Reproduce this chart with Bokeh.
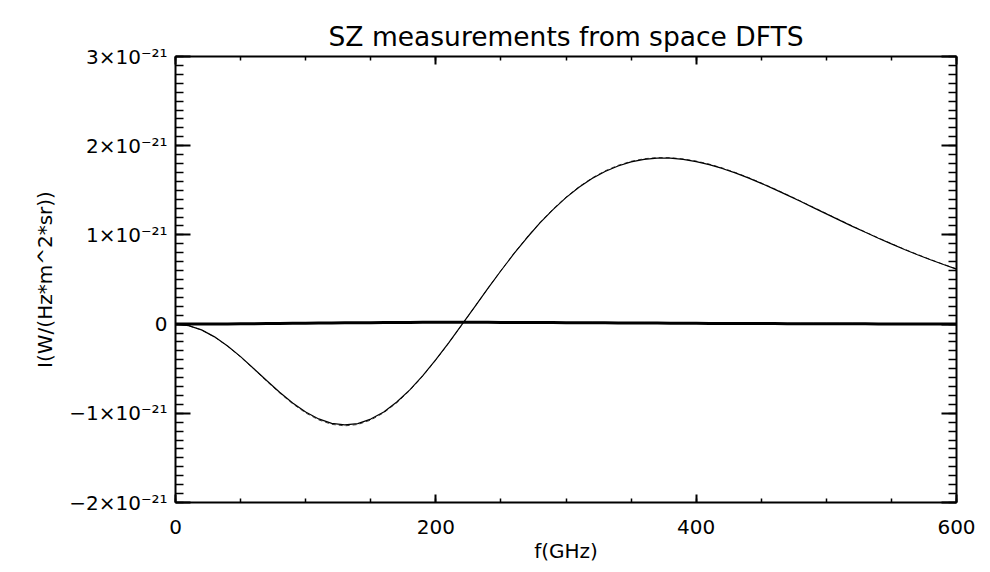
from bokeh.plotting import figure
from bokeh.models import LinearAxis, FixedTicker, Range1d, CustomJSTickFormatter
from bokeh.embed import file_html
from bokeh.resources import INLINE

TITLE = "SZ measurements from space DFTS"
X_LABEL = "f(GHz)"
Y_LABEL = "I(W/(Hz*m^2*sr))"

# frequency grid (GHz)
FREQ = [0, 10, 20, 30, 40, 50, 60, 70, 80, 90,
        100, 110, 120, 130, 140, 150, 160, 170, 180, 190,
        200, 210, 220, 230, 240, 250, 260, 270, 280, 290,
        300, 310, 320, 330, 340, 350, 360, 370, 380, 390,
        400, 410, 420, 430, 440, 450, 460, 470, 480, 490,
        500, 510, 520, 530, 540, 550, 560, 570, 580, 590, 600]

# intensities in units of 1e-21 W/(Hz m^2 sr)
SZ_SOLID = [0.0, -0.017, -0.065, -0.143, -0.245, -0.365, -0.497, -0.633, -0.764, -0.884,
            -0.986, -1.063, -1.113, -1.130, -1.115, -1.065, -0.985, -0.874, -0.737, -0.577,
            -0.399, -0.207, -0.007, 0.196, 0.400, 0.598, 0.789, 0.968, 1.134, 1.284,
            1.418, 1.534, 1.632, 1.711, 1.773, 1.818, 1.847, 1.860, 1.860, 1.847,
            1.822, 1.788, 1.745, 1.695, 1.639, 1.578, 1.513, 1.446, 1.377, 1.306,
            1.236, 1.166, 1.096, 1.029, 0.963, 0.899, 0.837, 0.778, 0.721, 0.668, 0.617]

SZ_DASHED = [0.0, -0.017, -0.066, -0.145, -0.247, -0.369, -0.502, -0.639, -0.772, -0.893,
             -0.996, -1.074, -1.124, -1.141, -1.126, -1.076, -0.994, -0.882, -0.744, -0.582,
             -0.403, -0.210, -0.009, 0.196, 0.400, 0.600, 0.792, 0.972, 1.139, 1.289,
             1.424, 1.540, 1.638, 1.718, 1.780, 1.825, 1.854, 1.867, 1.866, 1.852,
             1.828, 1.794, 1.751, 1.700, 1.644, 1.583, 1.518, 1.450, 1.381, 1.310,
             1.240, 1.170, 1.100, 1.032, 0.966, 0.902, 0.840, 0.781, 0.724, 0.670, 0.619]

KSZ = [0.0, 0.0002, 0.0005, 0.0012, 0.002, 0.003, 0.0042, 0.0055, 0.0069, 0.0084,
       0.0099, 0.0114, 0.0128, 0.0141, 0.0154, 0.0165, 0.0175, 0.0183, 0.0190, 0.0195,
       0.0198, 0.0200, 0.0200, 0.0199, 0.0197, 0.0193, 0.0189, 0.0184, 0.0178, 0.0171,
       0.0164, 0.0157, 0.0149, 0.0141, 0.0133, 0.0125, 0.0117, 0.0110, 0.0102, 0.0095,
       0.0088, 0.0081, 0.0075, 0.0069, 0.0064, 0.0059, 0.0054, 0.0049, 0.0045, 0.0041,
       0.0037, 0.0033, 0.0030, 0.0027, 0.0025, 0.0022, 0.0020, 0.0018, 0.0016, 0.0014, 0.0013]

X_MAJOR = [0, 200, 400, 600]
X_MINOR = [0, 50, 100, 150, 200, 250, 300, 350, 400, 450, 500, 550, 600]
Y_MAJOR = [-2, -1, 0, 1, 2, 3]
Y_MINOR = [round(-2 + 0.1 * i, 1) for i in range(51)]
Y_TICK_LABELS = ["\u22122\u00d710\u207b\u00b2\u00b9", "\u22121\u00d710\u207b\u00b2\u00b9", "0",
                 "1\u00d710\u207b\u00b2\u00b9", "2\u00d710\u207b\u00b2\u00b9", "3\u00d710\u207b\u00b2\u00b9"]

FONT = "DejaVu Sans"

p = figure(width=985, height=572, output_backend="svg", toolbar_location=None,
           x_range=Range1d(0, 600), y_range=Range1d(-2, 3),
           min_border_left=175, min_border_right=29, min_border_top=56, min_border_bottom=70)
p.xgrid.visible = False
p.ygrid.visible = False
p.outline_line_color = None
p.background_fill_color = "white"
p.border_fill_color = "white"

p.title.text = TITLE
p.title.align = "center"
p.title.text_font = FONT
p.title.text_font_size = "26.5px"
p.title.text_font_style = "normal"
p.title.text_color = "black"

xt = FixedTicker(ticks=X_MAJOR, minor_ticks=X_MINOR)
yt = FixedTicker(ticks=Y_MAJOR, minor_ticks=Y_MINOR)


def style(ax, major_len, minor_len, labels=True):
    ax.axis_line_width = 2
    ax.axis_line_color = "black"
    ax.major_tick_in = major_len
    ax.major_tick_out = 0
    ax.minor_tick_in = minor_len
    ax.minor_tick_out = 0
    ax.major_tick_line_width = 2
    ax.minor_tick_line_width = 1.5
    ax.major_tick_line_color = "black"
    ax.minor_tick_line_color = "black"
    ax.major_label_text_font = FONT
    ax.major_label_text_font_size = "20px"
    ax.major_label_text_color = "black"
    ax.axis_label_text_font = FONT
    ax.axis_label_text_font_size = "20px"
    ax.axis_label_text_font_style = "normal"
    ax.axis_label_text_color = "black"
    if not labels:
        ax.formatter = CustomJSTickFormatter(code="return '';")
        ax.major_label_standoff = 0


xa = p.xaxis[0]
xa.ticker = xt
style(xa, 8, 4)
xa.major_label_standoff = 17
xa.axis_label = X_LABEL
xa.axis_label_standoff = 2

ya = p.yaxis[0]
ya.ticker = yt
style(ya, 15, 8)
ya.major_label_standoff = 8
ya.major_label_overrides = {float(k): v for k, v in zip(Y_MAJOR, Y_TICK_LABELS)}
ya.axis_label = Y_LABEL
ya.axis_label_standoff = 9

top = LinearAxis(ticker=FixedTicker(ticks=X_MAJOR, minor_ticks=X_MINOR))
style(top, 8, 4, labels=False)
p.add_layout(top, "above")

right = LinearAxis(ticker=FixedTicker(ticks=Y_MAJOR, minor_ticks=Y_MINOR))
style(right, 15, 8, labels=False)
p.add_layout(right, "right")

p.line(FREQ, SZ_DASHED, line_color="#444444", line_width=1, line_dash="4 3")
p.line(FREQ, SZ_SOLID, line_color="black", line_width=1.2)
p.line(FREQ, KSZ, line_color="black", line_width=3)

open("out.html", "w").write(file_html(p, INLINE))
